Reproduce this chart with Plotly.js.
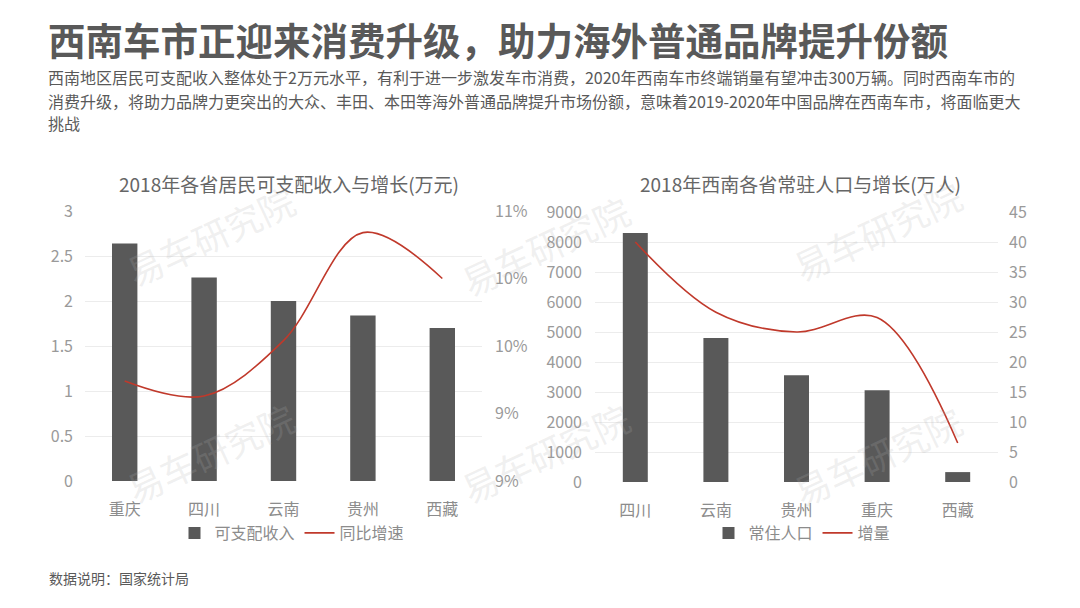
<!DOCTYPE html>
<html>
<head>
<meta charset="utf-8">
<script src="https://cdn.plot.ly/plotly-3.0.1.min.js"></script>
<style>
  html, body { margin: 0; padding: 0; background: #ffffff; }
  #chart { width: 1080px; height: 608px; }
</style>
</head>
<body>
<div id="chart"></div>
<script>
// ---- Data ----
const incomeProvinces = ['重庆', '四川', '云南', '贵州', '西藏'];
const incomeValues = [2.64, 2.26, 2.00, 1.84, 1.70];         // 万元
const incomeGrowth = [0.0974, 0.0963, 0.1004, 0.1084, 0.1050]; // 同比增速

const popProvinces = ['四川', '云南', '贵州', '重庆', '西藏'];
const popValues = [8300, 4800, 3560, 3060, 330];   // 万人
const popIncrease = [40.0, 28.3, 25.0, 27.4, 6.5]; // 增量

const growthTickVals = [0.09, 0.095, 0.10, 0.105, 0.11];
const growthTickText = ['9%', '9%', '10%', '10%', '11%'];

const mainTitle = '西南车市正迎来消费升级，助力海外普通品牌提升份额';
const subtitleLines = [
  '西南地区居民可支配收入整体处于2万元水平，有利于进一步激发车市消费，2020年西南车市终端销量有望冲击300万辆。同时西南车市的',
  '消费升级，将助力品牌力更突出的大众、丰田、本田等海外普通品牌提升市场份额，意味着2019-2020年中国品牌在西南车市，将面临更大',
  '挑战'
];
const leftTitle = '2018年各省居民可支配收入与增长(万元)';
const rightTitle = '2018年西南各省常驻人口与增长(万人)';
const footnote = '数据说明：国家统计局';
const watermark = '易车研究院';

// ---- Styles ----
const W = 1080, H = 608;
const px = v => v / W;
const py = v => (H - v) / H;
const FONT = '"Noto Sans CJK SC", "Noto Sans", sans-serif';
const BAR = '#595959';
const LINE = '#c0392b';
const TICK = { family: FONT, size: 16, color: '#9a9a9a' };
const CAT = { family: FONT, size: 16, color: '#8c8c8c' };

const traces = [
  { type: 'bar', x: incomeProvinces, y: incomeValues, name: '可支配收入',
    xaxis: 'x', yaxis: 'y', marker: { color: BAR }, width: 0.32, legend: 'legend' },
  { type: 'scatter', mode: 'lines', x: incomeProvinces, y: incomeGrowth, name: '同比增速',
    xaxis: 'x', yaxis: 'y2', line: { color: LINE, width: 1.6, shape: 'spline', smoothing: 1 }, legend: 'legend' },
  { type: 'bar', x: popProvinces, y: popValues, name: '常住人口',
    xaxis: 'x2', yaxis: 'y3', marker: { color: BAR }, width: 0.31, legend: 'legend2' },
  { type: 'scatter', mode: 'lines', x: popProvinces, y: popIncrease, name: '增量',
    xaxis: 'x2', yaxis: 'y4', line: { color: LINE, width: 1.6, shape: 'spline', smoothing: 1 }, legend: 'legend2' }
];

const annotations = [
  { text: '<b>' + mainTitle + '</b>', x: px(46), y: py(38), xref: 'paper', yref: 'paper',
    xanchor: 'left', yanchor: 'middle', showarrow: false,
    font: { family: FONT, size: 37.5, color: '#595959' } },
  { text: subtitleLines[0], x: px(46), y: py(77), xref: 'paper', yref: 'paper',
    xanchor: 'left', yanchor: 'middle', showarrow: false, font: { family: FONT, size: 16, color: '#595959' } },
  { text: subtitleLines[1], x: px(46), y: py(101), xref: 'paper', yref: 'paper',
    xanchor: 'left', yanchor: 'middle', showarrow: false, font: { family: FONT, size: 16, color: '#595959' } },
  { text: subtitleLines[2], x: px(46), y: py(123), xref: 'paper', yref: 'paper',
    xanchor: 'left', yanchor: 'middle', showarrow: false, font: { family: FONT, size: 16, color: '#595959' } },
  { text: leftTitle, x: px(289), y: py(183), xref: 'paper', yref: 'paper',
    xanchor: 'center', yanchor: 'middle', showarrow: false, font: { family: FONT, size: 19, color: '#666666' } },
  { text: rightTitle, x: px(800), y: py(183), xref: 'paper', yref: 'paper',
    xanchor: 'center', yanchor: 'middle', showarrow: false, font: { family: FONT, size: 19, color: '#666666' } },
  { text: footnote, x: px(47), y: py(578), xref: 'paper', yref: 'paper',
    xanchor: 'left', yanchor: 'middle', showarrow: false, font: { family: FONT, size: 14, color: '#595959' } }
];

const wmPositions = [[210, 235], [545, 245], [877, 230], [210, 452], [545, 452], [877, 455]];
wmPositions.forEach(p => annotations.push({
  text: watermark, x: px(p[0]), y: py(p[1]), xref: 'paper', yref: 'paper',
  xanchor: 'center', yanchor: 'middle', showarrow: false, textangle: -25,
  font: { family: FONT, size: 36, color: 'rgba(175,175,175,0.2)' }
}));

const layout = {
  width: W, height: H,
  margin: { l: 0, r: 0, t: 0, b: 0 },
  paper_bgcolor: '#ffffff', plot_bgcolor: 'rgba(0,0,0,0)',
  font: { family: FONT, color: '#8c8c8c' },
  bargap: 0.6,
  xaxis: { domain: [px(85), px(482)], anchor: 'y', type: 'category',
    showgrid: false, showline: false, ticks: '', tickfont: CAT, ticklabelstandoff: 17, fixedrange: true },
  yaxis: { domain: [py(481), py(211)], anchor: 'x', range: [0, 3], dtick: 0.5, tick0: 0,
    showgrid: true, gridcolor: '#ececec', gridwidth: 1, zeroline: false, showline: false,
    ticks: '', tickfont: TICK, ticklabelstandoff: 11 },
  yaxis2: { overlaying: 'y', side: 'right', anchor: 'x', range: [0.09, 0.11],
    tickmode: 'array', tickvals: growthTickVals, ticktext: growthTickText,
    showgrid: false, zeroline: false, showline: false, ticks: '', tickfont: TICK, ticklabelstandoff: 12 },
  xaxis2: { domain: [px(595), px(998)], anchor: 'y3', type: 'category',
    showgrid: false, showline: false, ticks: '', tickfont: CAT, ticklabelstandoff: 17 },
  yaxis3: { domain: [py(482), py(212)], anchor: 'x2', range: [0, 9000], dtick: 1000, tick0: 0,
    showgrid: true, gridcolor: '#ececec', gridwidth: 1, zeroline: false, showline: false,
    ticks: '', tickfont: TICK, ticklabelstandoff: 12 },
  yaxis4: { overlaying: 'y3', side: 'right', anchor: 'x2', range: [0, 45], dtick: 5, tick0: 0,
    showgrid: false, zeroline: false, showline: false, ticks: '', tickfont: TICK, ticklabelstandoff: 10 },
  legend: { orientation: 'h', x: px(292), xanchor: 'center', y: py(533), yanchor: 'middle',
    font: { family: FONT, size: 16, color: '#8c8c8c' }, itemwidth: 30, bgcolor: 'rgba(0,0,0,0)' },
  legend2: { orientation: 'h', x: px(802), xanchor: 'center', y: py(533), yanchor: 'middle',
    font: { family: FONT, size: 16, color: '#8c8c8c' }, itemwidth: 30, bgcolor: 'rgba(0,0,0,0)' },
  showlegend: true,
  annotations: annotations
};

Plotly.newPlot('chart', traces, layout, { staticPlot: true, displayModeBar: false });
</script>
</body>
</html>
